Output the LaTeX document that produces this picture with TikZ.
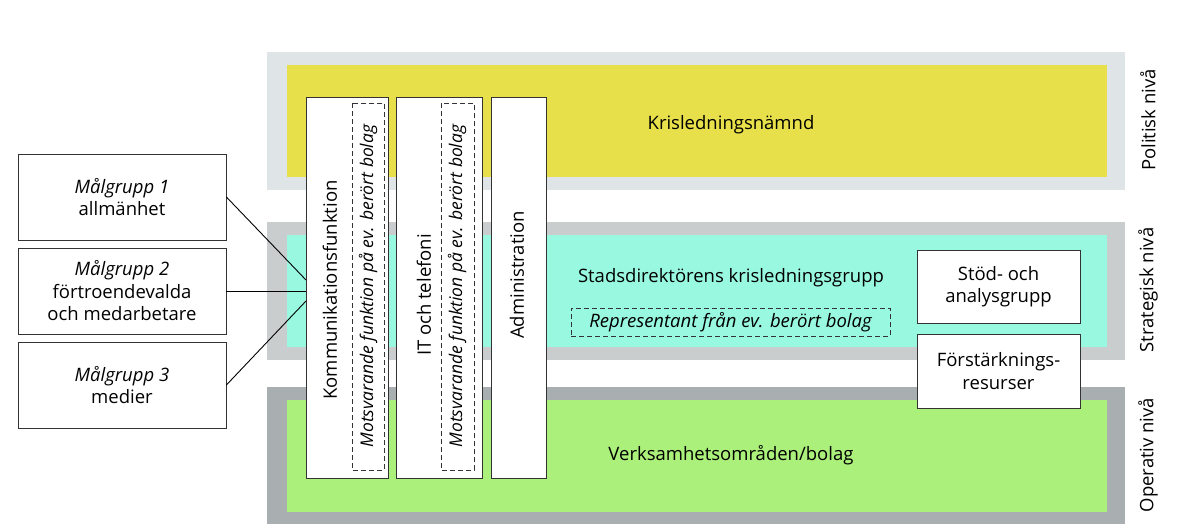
\documentclass[tikz,border=0pt]{standalone}
\usepackage{fontspec}
\setmainfont{Open Sans}
\definecolor{gA}{HTML}{DFE4E6}
\definecolor{gB}{HTML}{C9CDCD}
\definecolor{gC}{HTML}{A9AEB1}
\definecolor{yel}{HTML}{E8E04A}
\definecolor{cya}{HTML}{99F8E0}
\definecolor{grn}{HTML}{AAF07A}
\begin{document}
\begin{tikzpicture}[x=1pt,y=-1pt,font=\fontsize{18.5}{22.5}\selectfont,
  wbox/.style={draw=black!80,fill=white,line width=0.8pt},
  dbox/.style={draw=black!80,dash pattern=on 5pt off 3pt,line width=0.8pt},
  lbl/.style={align=center,inner sep=0pt}]
\useasboundingbox (0,0) rectangle (1200,530);
% bands
\fill[gA] (267,52) rectangle (1125,190);
\fill[yel] (287,65) rectangle (1107,177);
\fill[gB] (267,222) rectangle (1125,360);
\fill[cya] (287,235) rectangle (1107,347);
\fill[gC] (267,387) rectangle (1125,524);
\fill[grn] (287,400) rectangle (1107,512);
\node[lbl] (n1) at (731,125) {Krisledningsnämnd};
\node[lbl] (n2) at (731,278) {Stadsdirektörens krisledningsgrupp};
\node[lbl] (n3) at (731,455) {Verksamhetsområden/bolag};
\node[lbl,rotate=90] (p1) at (1148,120) {Politisk nivå};
\node[lbl,rotate=90] (p2) at (1148,290) {Strategisk nivå};
\node[lbl,rotate=90] (p3) at (1148,455) {Operativ nivå};
% vertical boxes
\draw[wbox] (306,97) rectangle (388,478);
\draw[dbox] (352,103) rectangle (384,470);
\node[lbl,rotate=90] (k) at (330,290) {Kommunikationsfunktion};
\node[lbl,rotate=90] (km) at (368,286) {\fontsize{17.5}{21}\selectfont\itshape Motsvarande funktion på ev. berört bolag};
\draw[wbox] (396,97) rectangle (482,478);
\draw[dbox] (441,103) rectangle (474,470);
\node[lbl,rotate=90] (it) at (424,295) {IT och telefoni};
\node[lbl,rotate=90] (itm) at (457,286) {\fontsize{17.5}{21}\selectfont\itshape Motsvarande funktion på ev. berört bolag};
\draw[wbox] (491,97) rectangle (546,478);
\node[lbl,rotate=90] (adm) at (517,275) {Administration};
% right boxes
\node[wbox,minimum width=163pt,minimum height=73pt,lbl] (sa) at (998.5,286.5) {Stöd- och\\analysgrupp};
\node[wbox,minimum width=163pt,minimum height=74pt,lbl] (fr) at (998.5,371) {Förstärknings-\\resurser};
\node[dbox,minimum width=319pt,minimum height=28pt,lbl] (rep) at (730.5,322) {\itshape Representant från ev. berört bolag};
% target groups
\node[wbox,minimum width=208pt,minimum height=86pt,lbl] (m1) at (122,197) {\itshape Målgrupp 1\\allmänhet};
\node[wbox,minimum width=208pt,minimum height=86pt,lbl] (m2) at (122,291) {\itshape Målgrupp 2\\förtroendevalda\\och medarbetare};
\node[wbox,minimum width=208pt,minimum height=86pt,lbl] (m3) at (122,385) {\itshape Målgrupp 3\\medier};
\coordinate (c1) at (306,280);
\coordinate (c2) at (306,291);
\coordinate (c3) at (306,301);
\draw[line width=0.9pt] (m1.east) -- (c1);
\draw[line width=0.9pt] (m2.east) -- (c2);
\draw[line width=0.9pt] (m3.east) -- (c3);
\end{tikzpicture}
\end{document}
